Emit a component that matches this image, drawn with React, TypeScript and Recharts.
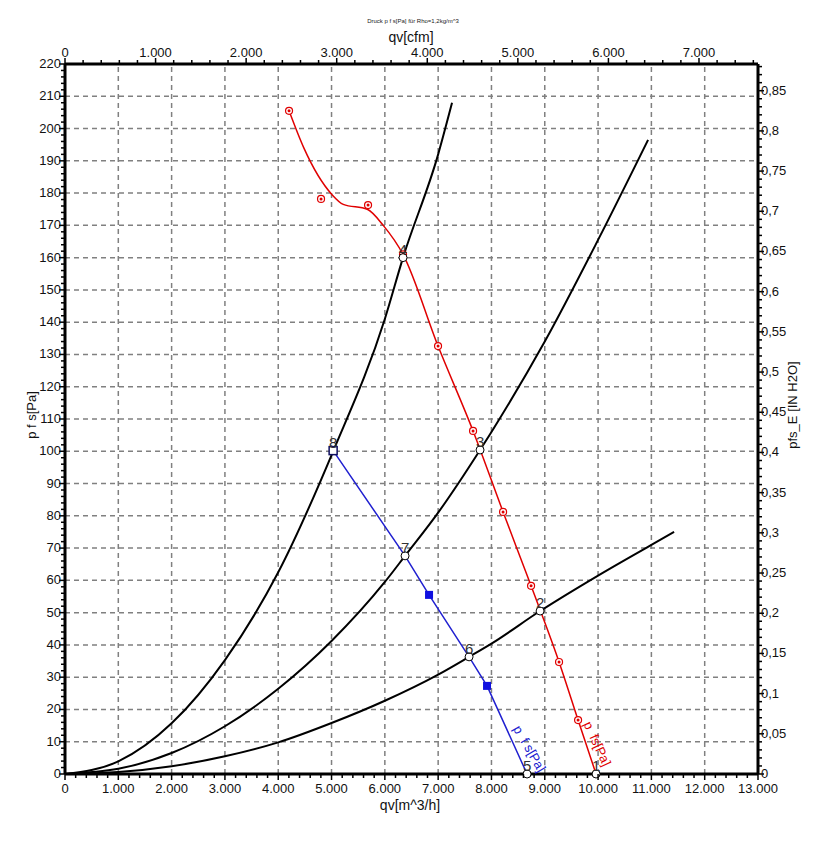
import {
  ComposedChart,
  Line,
  Scatter,
  XAxis,
  YAxis,
  ReferenceLine,
} from "recharts";

// system curves (qv m^3/h, p Pa)
const curveA = [
  { q: 0, p: 0 }, { q: 1000, p: 3.9 }, { q: 2000, p: 15.7 }, { q: 3000, p: 35.3 },
  { q: 4000, p: 62.5 }, { q: 5030, p: 100 }, { q: 6000, p: 141 }, { q: 6341, p: 160 },
  { q: 7000, p: 192 }, { q: 7261, p: 208 },
];
const curveB = [
  { q: 0, p: 0 }, { q: 1000, p: 1.6 }, { q: 2000, p: 6.5 }, { q: 3000, p: 14.8 },
  { q: 4000, p: 26.4 }, { q: 5000, p: 41.2 }, { q: 6000, p: 59.5 }, { q: 6379, p: 67.6 },
  { q: 7000, p: 81 }, { q: 7786, p: 100.4 }, { q: 8000, p: 106 }, { q: 9000, p: 134 },
  { q: 10000, p: 165.5 }, { q: 10938, p: 196.5 },
];
const curveC = [
  { q: 0, p: 0 }, { q: 1000, p: 0.6 }, { q: 2000, p: 2.4 }, { q: 3000, p: 5.5 },
  { q: 4000, p: 9.8 }, { q: 5000, p: 15.8 }, { q: 6000, p: 22.7 }, { q: 7000, p: 30.8 },
  { q: 7580, p: 36.3 }, { q: 8000, p: 40.4 }, { q: 8912, p: 50.5 }, { q: 10000, p: 61.5 },
  { q: 11000, p: 71 }, { q: 11426, p: 75 },
];

// fan curve p fs (red)
const redCurve = [
  { q: 4203, p: 205.5 }, { q: 4480, p: 194 }, { q: 5010, p: 179.5 }, { q: 5220, p: 176.5 },
  { q: 5670, p: 175 }, { q: 5970, p: 170 }, { q: 6341, p: 161 }, { q: 6998, p: 132.6 },
  { q: 7655, p: 106.3 }, { q: 8218, p: 81.2 }, { q: 8743, p: 58.3 }, { q: 9268, p: 34.7 },
  { q: 9625, p: 16.7 }, { q: 9962, p: 0 },
];
const redMarkers = [
  { q: 4203, p: 205.5 }, { q: 4803, p: 178.2 }, { q: 5685, p: 176.3 }, { q: 6341, p: 161 },
  { q: 6998, p: 132.6 }, { q: 7655, p: 106.3 }, { q: 8218, p: 81.2 }, { q: 8743, p: 58.3 },
  { q: 9268, p: 34.7 }, { q: 9625, p: 16.7 },
];

// fan curve p f s (blue)
const blueCurve = [
  { q: 5030, p: 100.2 }, { q: 6379, p: 67.6 }, { q: 6829, p: 55.5 }, { q: 7580, p: 36.3 },
  { q: 7917, p: 27.3 }, { q: 8668, p: 0 },
];
const blueMarkers = [
  { q: 6829, p: 55.5 }, { q: 7917, p: 27.3 },
];

// operating points
const opPoints = [
  { q: 9962, p: 0, n: "1" }, { q: 8912, p: 50.5, n: "2" }, { q: 7786, p: 100.4, n: "3" },
  { q: 6341, p: 160, n: "4" }, { q: 8668, p: 0, n: "5" }, { q: 7580, p: 36.3, n: "6" },
  { q: 6379, p: 67.6, n: "7" }, { q: 5030, p: 100.2, n: "8" },
];

const curveLabels = [
  { q: 9720, p: 15.5, text: "p  fs[Pa]", angle: 65, color: "#e00000" },
  { q: 8400, p: 14, text: "p  f s[Pa]", angle: 60, color: "#2020d0" },
];

// secondary scales: cfm on top, IN H2O on the right
const cfmRange = [0, 7651.5];
const inH2oRange = [0, 0.88322];

const bottomMajor = [0, 1000, 2000, 3000, 4000, 5000, 6000, 7000, 8000, 9000, 10000, 11000, 12000, 13000];
const topMajor = [0, 1000, 2000, 3000, 4000, 5000, 6000, 7000];
const leftMajor = [0, 10, 20, 30, 40, 50, 60, 70, 80, 90, 100, 110, 120, 130, 140, 150, 160, 170, 180, 190, 200, 210, 220];
const rightMajor = [0, 0.05, 0.1, 0.15, 0.2, 0.25, 0.3, 0.35, 0.4, 0.45, 0.5, 0.55, 0.6, 0.65, 0.7, 0.75, 0.8, 0.85];

const gridX = bottomMajor.slice(1, -1);
const gridY = leftMajor.slice(1, -1);

const bottomTicks = Array.from({ length: 66 }, (_, i) => i * 200);
const topTicks = Array.from({ length: 39 }, (_, i) => i * 200);
const leftTicks = Array.from({ length: 111 }, (_, i) => i * 2);
const rightTicks = Array.from({ length: 89 }, (_, i) => i / 100);

const secondarySpan = [
  { c: cfmRange[0], h: inH2oRange[0] },
  { c: cfmRange[1], h: inH2oRange[1] },
];

const FONT = "'Liberation Sans', Arial, sans-serif";

const thousands = (v: number) => (v === 0 ? "0" : `${Math.round(v / 1000)}.000`);
const commaDec = (v: number) => String(Math.round(v * 100) / 100).replace(".", ",");

const HTick = ({ x, y, payload, side, majors, fmt }: any) => {
  const v = payload.value;
  const major = majors.some((m: number) => Math.abs(m - v) < 1e-6);
  const dir = side === "bottom" ? 1 : -1;
  return (
    <g>
      <line x1={x} y1={y} x2={x} y2={y + dir * (major ? 6 : 4)} stroke="#000" strokeWidth={1.5} />
      {major && (
        <text x={x} y={side === "bottom" ? y + 19 : y - 7} textAnchor="middle" fontSize={13} fontFamily={FONT} fill="#111">
          {fmt(v)}
        </text>
      )}
    </g>
  );
};

const VTick = ({ x, y, payload, side, majors, fmt }: any) => {
  const v = payload.value;
  const major = majors.some((m: number) => Math.abs(m - v) < 1e-6);
  const dir = side === "right" ? 1 : -1;
  return (
    <g>
      <line x1={x} y1={y} x2={x + dir * (major ? 6 : 4)} y2={y} stroke="#000" strokeWidth={1.5} />
      {major && (
        <text
          x={side === "right" ? x + 3 : x - 4}
          y={y + 4}
          textAnchor={side === "right" ? "start" : "end"}
          fontSize={13}
          fontFamily={FONT}
          fill="#111"
        >
          {fmt(v)}
        </text>
      )}
    </g>
  );
};

const RedDot = ({ cx, cy }: any) => (
  <g>
    <circle cx={cx} cy={cy} r={3.5} fill="#fff" stroke="#e00000" strokeWidth={1.2} />
    <circle cx={cx} cy={cy} r={1.5} fill="#e00000" />
  </g>
);

const BlueSquare = ({ cx, cy }: any) => (
  <rect x={cx - 4} y={cy - 4} width={8} height={8} fill="#1010e0" />
);

const OpPoint = ({ cx, cy, payload }: any) => (
  <g>
    {payload.n === "8" ? (
      <rect x={cx - 4} y={cy - 4} width={8} height={8} fill="#fff" stroke="#101060" strokeWidth={1.5} />
    ) : (
      <circle cx={cx} cy={cy} r={4} fill="#fff" stroke="#000" strokeWidth={1} />
    )}
    <text x={cx} y={cy - 3} textAnchor="middle" fontSize={15} fontFamily={FONT} fill="#333">
      {payload.n}
    </text>
  </g>
);

const CurveText = ({ cx, cy, payload }: any) => (
  <text
    x={cx}
    y={cy}
    transform={`rotate(${payload.angle} ${cx} ${cy})`}
    fontSize={13}
    fontFamily={FONT}
    fill={payload.color}
    style={{ whiteSpace: "pre" }}
  >
    {payload.text}
  </text>
);

export default function App() {
  return (
    <div style={{ position: "absolute", left: 0, top: 0, width: 823, height: 841, background: "#fff" }}>
      <ComposedChart width={823} height={841} margin={{ top: 0, right: 0, bottom: 0, left: 0 }}>
        <XAxis
          xAxisId="b"
          dataKey="q"
          type="number"
          orientation="bottom"
          domain={[0, 13000]}
          ticks={bottomTicks}
          interval={0}
          height={67}
          tickSize={0}
          tickMargin={0}
          tickLine={false}
          axisLine={{ stroke: "#000", strokeWidth: 3 }}
          tick={<HTick side="bottom" majors={bottomMajor} fmt={thousands} />}
        />
        <XAxis
          xAxisId="t"
          dataKey="c"
          type="number"
          orientation="top"
          domain={cfmRange}
          ticks={topTicks}
          interval={0}
          height={64}
          tickSize={0}
          tickMargin={0}
          tickLine={false}
          axisLine={{ stroke: "#000", strokeWidth: 3 }}
          tick={<HTick side="top" majors={topMajor} fmt={thousands} />}
        />
        <YAxis
          yAxisId="l"
          dataKey="p"
          type="number"
          orientation="left"
          domain={[0, 220]}
          ticks={leftTicks}
          interval={0}
          width={65}
          tickSize={0}
          tickMargin={0}
          tickLine={false}
          axisLine={{ stroke: "#000", strokeWidth: 3 }}
          tick={<VTick side="left" majors={leftMajor} fmt={(v: number) => String(v)} />}
        />
        <YAxis
          yAxisId="r"
          dataKey="h"
          type="number"
          orientation="right"
          domain={inH2oRange}
          ticks={rightTicks}
          interval={0}
          width={65}
          tickSize={0}
          tickMargin={0}
          tickLine={false}
          axisLine={{ stroke: "#000", strokeWidth: 3 }}
          tick={<VTick side="right" majors={rightMajor} fmt={commaDec} />}
        />

        {gridX.map((v) => (
          <ReferenceLine key={`gx${v}`} x={v} xAxisId="b" yAxisId="l" stroke="#808080" strokeWidth={1.5} strokeDasharray="5 4" />
        ))}
        {gridY.map((v) => (
          <ReferenceLine key={`gy${v}`} y={v} xAxisId="b" yAxisId="l" stroke="#808080" strokeWidth={1.5} strokeDasharray="5 4" />
        ))}

        {/* invisible series so the cfm / IN H2O axes get their ticks */}
        <Line data={secondarySpan} xAxisId="t" yAxisId="r" dataKey="h" stroke="none" dot={false} isAnimationActive={false} />

        {[curveA, curveB, curveC].map((d, i) => (
          <Line
            key={`sys${i}`}
            data={d}
            xAxisId="b"
            yAxisId="l"
            dataKey="p"
            type="monotone"
            stroke="#000"
            strokeWidth={2}
            dot={false}
            isAnimationActive={false}
          />
        ))}

        <Line data={redCurve} xAxisId="b" yAxisId="l" dataKey="p" type="monotone" stroke="#e00000" strokeWidth={1.5} dot={false} isAnimationActive={false} />
        <Line data={blueCurve} xAxisId="b" yAxisId="l" dataKey="p" type="linear" stroke="#2020d0" strokeWidth={1.5} dot={false} isAnimationActive={false} />

        <Scatter data={redMarkers} xAxisId="b" yAxisId="l" dataKey="p" shape={<RedDot />} isAnimationActive={false} />
        <Scatter data={blueMarkers} xAxisId="b" yAxisId="l" dataKey="p" shape={<BlueSquare />} isAnimationActive={false} />
        <Scatter data={curveLabels} xAxisId="b" yAxisId="l" dataKey="p" shape={<CurveText />} isAnimationActive={false} />
        <Scatter data={opPoints} xAxisId="b" yAxisId="l" dataKey="p" shape={<OpPoint />} isAnimationActive={false} />
      </ComposedChart>

      <svg width={823} height={841} style={{ position: "absolute", left: 0, top: 0, pointerEvents: "none" }} fontFamily={FONT}>
        <text x={413} y={23} textAnchor="middle" fontSize={6} fill="#222">
          Druck p f s[Pa] für Rho=1,2kg/m^3
        </text>
        <text x={411} y={42} textAnchor="middle" fontSize={14} fill="#111">qv[cfm]</text>
        <text x={410} y={810} textAnchor="middle" fontSize={14} fill="#111">qv[m^3/h]</text>
        <text x={36} y={415} textAnchor="middle" fontSize={13} fill="#111" transform="rotate(-90 36 415)">p  f s[Pa]</text>
        <text x={797} y={405} textAnchor="middle" fontSize={13} fill="#111" transform="rotate(-90 797 405)">pfs_E [IN H2O]</text>
      </svg>
    </div>
  );
}
